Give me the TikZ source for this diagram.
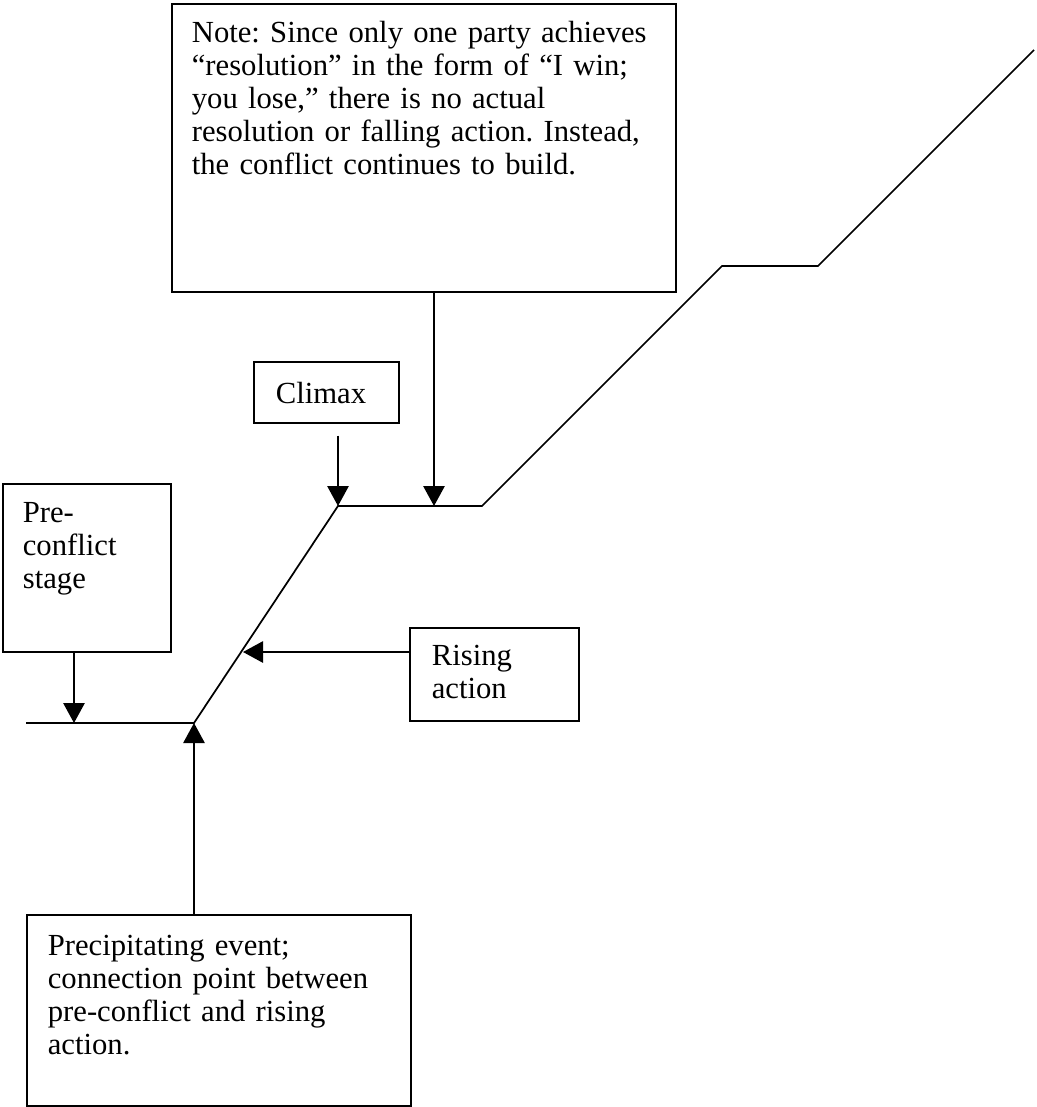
\documentclass[tikz,border=0pt]{standalone}
\usepackage{fontspec}
\setmainfont{Liberation Serif}
\frenchspacing
\usetikzlibrary{arrows.meta}
\begin{document}
\begin{tikzpicture}[x=0.75pt, y=-0.75pt,
  line width=1.3pt,
  box/.style={draw, rectangle, inner sep=0pt, anchor=north west},
  txt/.style={anchor=base west, inner sep=0pt, align=left, text width=400pt,
    font=\fontsize{23pt}{24.8pt}\selectfont},
  arr/.style={-{Triangle[width=16pt, length=15pt]}}]
  \useasboundingbox (0,0) rectangle (1037,1107);

  % points on the conflict line
  \coordinate (s0) at (26,723);
  \coordinate (p1) at (74,723);
  \coordinate (c1) at (194,723);
  \coordinate (r1) at (243,652);
  \coordinate (c2) at (338,506);
  \coordinate (n1) at (434,506);
  \coordinate (c3) at (482,506);
  \coordinate (c4) at (722,266);
  \coordinate (c5) at (818,266);
  \coordinate (c6) at (1034,50);

  \draw[line join=miter] (s0) -- (c1) -- (c2) -- (c3) -- (c4) -- (c5) -- (c6);

  % boxes
  \node[box, minimum width={504*0.75pt}, minimum height={288*0.75pt}] (note) at (171,3) {};
  \node[box, minimum width={145*0.75pt}, minimum height={61*0.75pt}] (climax) at (253,361) {};
  \node[box, minimum width={168*0.75pt}, minimum height={168*0.75pt}] (pre) at (2,483) {};
  \node[box, minimum width={169*0.75pt}, minimum height={93*0.75pt}] (rising) at (409,627) {};
  \node[box, minimum width={384*0.75pt}, minimum height={191*0.75pt}] (precip) at (26,914) {};

  % labels
  \node[txt] (notetext) at (191,42) {Note: Since only one party achieves\\
    “resolution” in the form of “I win;\\ you lose,” there is no actual\\
    resolution or falling action. Instead,\\ the conflict continues to build.};
  \node[txt] (climaxtext) at (275,403) {Climax};
  \node[txt] (pretext) at (22,522) {Pre-\\ conflict\\ stage};
  \node[txt] (risingtext) at (431,665) {Rising\\ action};
  \node[txt] (preciptext) at (47,955) {Precipitating event;\\
    connection point between\\ pre-conflict and rising\\ action.};

  % pointers
  \draw[arr] (note.south -| n1) -- (n1);
  \draw[arr, shorten <=9pt] (climax.south -| c2) -- (c2);
  \draw[arr] (pre.south -| p1) -- (p1);
  \draw[arr] (rising.west |- r1) -- (r1);
  \draw[arr] (precip.north -| c1) -- (c1);
\end{tikzpicture}
\end{document}
